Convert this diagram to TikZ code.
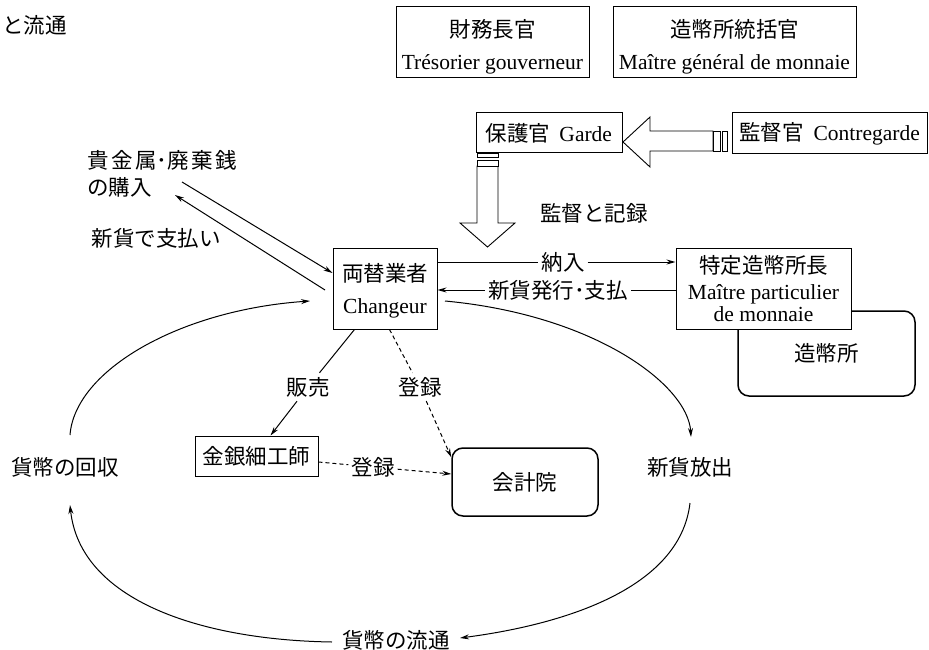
\documentclass[tikz,border=0pt]{standalone}
\usepackage{fontspec}
\setmainfont{Liberation Serif}
\newfontfamily\jp{Noto Sans CJK JP}
\usetikzlibrary{arrows.meta,calc}
\begin{document}
\begin{tikzpicture}[x=1pt,y=-1pt,
  font=\fontsize{21.5}{32}\selectfont,
  box/.style={draw, line width=1pt, fill=white, inner sep=0pt, align=center},
  rbox/.style={draw, line width=1.5pt, rounded corners=11pt, fill=white, inner sep=0pt},
  lbl/.style={fill=white, inner sep=3pt},
  txt/.style={inner sep=0pt},
  arr/.style={line width=1pt, -{Stealth[length=9pt,width=5pt]}},
  plain/.style={line width=1pt},
  dsh/.style={line width=1pt, dash pattern=on 4pt off 3pt},
  dsharr/.style={arr, dash pattern=on 4pt off 3pt},
  blk/.style={draw, line width=0.9pt, fill=white, line join=miter},
]
\useasboundingbox (0,0) rectangle (929,650);

% title fragment
\node[txt, anchor=west] (title) at (2,25) {\jp と流通};

% top boxes
\node[box, minimum width=193pt, minimum height=71pt] (treas) at (492.5,42.5) {};
\node[txt, align=center] (treast) at ($(treas.center)+(0,4)$) {{\jp 財務長官}\\Trésorier gouverneur};
\node[box, minimum width=243pt, minimum height=71pt] (gen) at (734.5,42.5) {};
\node[txt, align=center] (gent) at ($(gen.center)+(0,4)$) {{\jp 造幣所統括官}\\Maître général de monnaie};

% supervision boxes
\node[box, minimum width=146pt, minimum height=40pt] (garde) at (549,133) {{\jp 保護官}\hspace{9pt}Garde};
\node[box, minimum width=195pt, minimum height=41pt] (contre) at (829.5,133.5) {{\jp 監督官}\hspace{10pt}Contregarde};

% block arrow contregarde -> garde
\draw[blk] (623,142) -- (650,117) -- (650,131) -- (713,131) -- (713,151) -- (650,151) -- (650,167) -- cycle;
\draw[blk] (713,131) rectangle (720,151);
\draw[blk] (722,131) rectangle (727,151);
% block arrow garde -> down
\draw[blk] (487.5,247) -- (460,223) -- (477,223) -- (477,166) -- (498,166) -- (498,223) -- (515,223) -- cycle;
\draw[blk] (477,153) rectangle (498,157);
\draw[blk] (477,160) rectangle (498,166);
\node[txt] (kan) at (594,213) {\jp 監督と記録};

% main boxes
\node[box, minimum width=104pt, minimum height=81pt] (chg) at (385,288.5) {};
\node[txt, align=center] (chgt) at ($(chg.center)+(0,2)$) {{\jp 両替業者}\\Changeur};
\node[rbox, minimum width=177pt, minimum height=85pt] (mint) at (826.5,353.5) {\jp 造幣所};
\node[box, minimum width=175pt, minimum height=81pt, font=\fontsize{21.5}{26}\selectfont] (mst) at (763.5,288.5) {{\jp 特定造幣所長}\\Maître particulier\\[-4pt]de monnaie};
\node[rbox, minimum width=146pt, minimum height=68pt] (acc) at (525,482) {\jp 会計院};
\node[box, minimum width=123pt, minimum height=40pt] (gold) at (256.5,456) {\jp 金銀細工師};

% left side labels
\node[txt, align=left, anchor=west, font=\fontsize{21.5}{27}\selectfont] (buy) at (87,173.5) {\jp 貴\hspace{2.5pt}金\hspace{2.5pt}属･廃\hspace{2.5pt}棄\hspace{2.5pt}銭\\\jp の購入};
\node[txt] (pay) at (156,238) {\jp 新貨で支払い};
\coordinate (b1) at (182,182);
\coordinate (b2) at (325,290);
\coordinate (b3) at (175,195);
\draw[arr] (b1) -- ($(chg.west)+(0,-15.5)$);
\draw[arr] (b2) -- (b3);

% deliveries between changeur and master
\node[lbl] (nonyu) at (563,262) {\jp 納入};
\draw[plain] (chg.east |- nonyu) -- (nonyu);
\draw[arr] (nonyu) -- (mst.west |- nonyu);
\node[lbl] (shin) at (558,290) {\jp 新貨発行･支払};
\draw[plain] (mst.west |- shin) -- (shin);
\draw[arr] (shin) -- (chg.east |- shin);

% sale and registration
\node[lbl, inner sep=4pt] (han) at (308,387) {\jp 販売};
\draw[plain] ($(chg.south west)+(22,0)$) -- (han);
\draw[arr] (han) -- ($(gold.north west)+(76,0)$);
\node[lbl, inner sep=4pt] (tor1) at (420,387) {\jp 登録};
\draw[dsh] ($(chg.south west)+(57,0)$) -- (tor1);
\draw[dsharr] (tor1) -- ($(acc.north west)+(0,10)$);
\node[lbl] (tor2) at (373,467) {\jp 登録};
\draw[dsh] ($(gold.east)+(0,6)$) -- (tor2);
\draw[dsharr] (tor2) -- ($(acc.west)+(0,-8)$);

% circulation loop
\node[txt] (rec) at (65,467) {\jp 貨幣の回収};
\node[txt] (iss) at (690,467) {\jp 新貨放出};
\node[txt] (circ) at (396,640) {\jp 貨幣の流通};
\coordinate (l1) at (445,301);
\coordinate (l2) at (691,437);
\coordinate (l3) at (690,503);
\coordinate (l4) at (460,638);
\coordinate (l5) at (332,642);
\coordinate (l6) at (70,505);
\coordinate (l7) at (70,435);
\coordinate (l8) at (310,301);
\draw[arr] (l1) .. controls (595,315) and (688,385) .. (l2);
\draw[arr] (l3) .. controls (680,590) and (560,625) .. (l4);
\draw[arr] (l5) .. controls (200,640) and (80,600) .. (l6);
\draw[arr] (l7) .. controls (75,370) and (180,310) .. (l8);
\end{tikzpicture}
\end{document}
